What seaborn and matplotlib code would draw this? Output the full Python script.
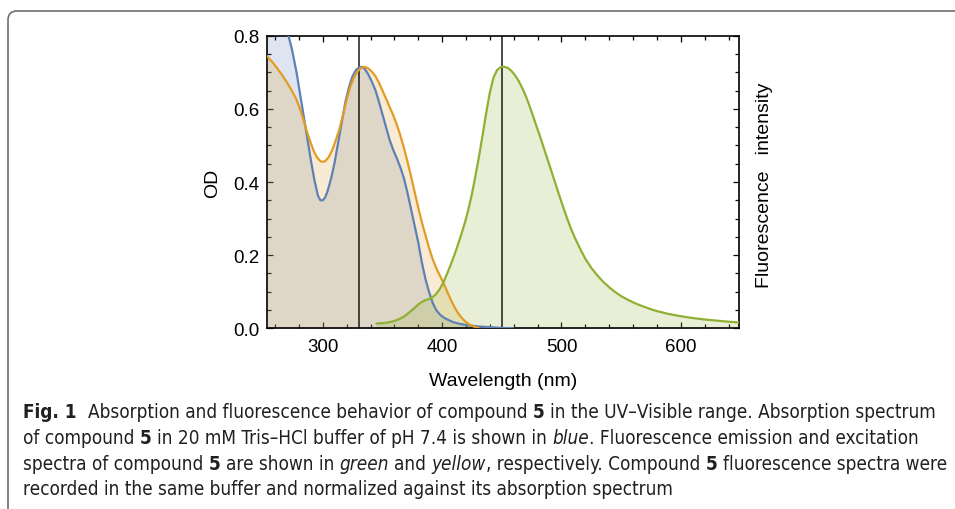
import numpy as np
import pandas as pd
import matplotlib
matplotlib.use("Agg")
import matplotlib.pyplot as plt
import matplotlib.font_manager as fm
from matplotlib.path import Path
from matplotlib.patches import PathPatch
from matplotlib.ticker import MultipleLocator
import seaborn as sns

# ── data ─────────────────────────────────────────────────────
# absorption (blue)
abs_nm = [253, 258, 262, 266, 270, 274, 278, 282, 286, 290, 293, 296, 298, 300,
          302, 304, 307, 310, 313, 316, 319, 322, 325, 328, 331, 333, 335, 338,
          341, 344, 347, 350, 353, 356, 359, 362, 365, 368, 371, 374, 377, 380,
          383, 386, 389, 392, 395, 398, 401, 405, 410, 415, 420, 430, 440, 450, 460]
abs_od = [1.00, 0.95, 0.905, 0.86, 0.815, 0.765, 0.70, 0.62, 0.54, 0.46, 0.405,
          0.362, 0.350, 0.350, 0.358, 0.375, 0.41, 0.455, 0.51, 0.565, 0.62,
          0.66, 0.69, 0.707, 0.714, 0.715, 0.71, 0.695, 0.675, 0.652, 0.62,
          0.585, 0.55, 0.515, 0.488, 0.465, 0.44, 0.41, 0.37, 0.325, 0.28,
          0.235, 0.18, 0.135, 0.1, 0.07, 0.05, 0.038, 0.03, 0.023, 0.016,
          0.012, 0.009, 0.005, 0.003, 0.001, 0.0]

# fluorescence excitation (orange)
exc_nm = [253, 258, 262, 266, 270, 274, 278, 282, 286, 289, 292, 295, 298, 300,
          302, 305, 308, 311, 314, 317, 320, 323, 326, 329, 332, 335, 338, 341,
          344, 347, 350, 353, 356, 359, 362, 365, 368, 371, 374, 377, 380, 383,
          386, 389, 392, 395, 398, 401, 404, 407, 410, 413, 416, 419, 422, 425,
          428, 431]
exc_od = [0.745, 0.727, 0.71, 0.692, 0.672, 0.65, 0.625, 0.59, 0.545, 0.515,
          0.488, 0.468, 0.457, 0.455, 0.457, 0.468, 0.488, 0.515, 0.545, 0.585,
          0.625, 0.66, 0.685, 0.702, 0.712, 0.715, 0.711, 0.702, 0.69, 0.672,
          0.65, 0.628, 0.605, 0.583, 0.557, 0.527, 0.493, 0.455, 0.415, 0.372,
          0.33, 0.29, 0.255, 0.22, 0.19, 0.165, 0.145, 0.125, 0.102, 0.08,
          0.06, 0.043, 0.03, 0.02, 0.012, 0.007, 0.003, 0.0]

# fluorescence emission (green)
emi_nm = [345, 350, 355, 360, 364, 368, 372, 376, 380, 383, 386, 389, 392, 395,
          398, 401, 404, 407, 410, 413, 416, 419, 422, 425, 428, 431, 434, 437,
          440, 443, 446, 449, 452, 455, 458, 461, 464, 467, 470, 473, 476, 479,
          482, 485, 488, 491, 494, 497, 500, 504, 508, 512, 516, 520, 525, 530,
          535, 540, 545, 550, 555, 560, 565, 570, 575, 580, 585, 590, 595, 600,
          610, 620, 630, 640, 649]
emi_int = [0.013, 0.014, 0.016, 0.02, 0.025, 0.032, 0.042, 0.053, 0.065, 0.072,
           0.077, 0.08, 0.085, 0.094, 0.107, 0.125, 0.148, 0.172, 0.198, 0.226,
           0.256, 0.288, 0.325, 0.368, 0.418, 0.472, 0.53, 0.59, 0.645, 0.685,
           0.706, 0.714, 0.715, 0.712, 0.704, 0.692, 0.677, 0.658, 0.636, 0.61,
           0.582, 0.553, 0.525, 0.495, 0.465, 0.435, 0.405, 0.375, 0.345, 0.307,
           0.272, 0.242, 0.215, 0.19, 0.165, 0.145, 0.127, 0.112, 0.099, 0.088,
           0.079, 0.071, 0.064, 0.058, 0.052, 0.047, 0.043, 0.039, 0.036, 0.033,
           0.028, 0.024, 0.021, 0.018, 0.016]

peak_lines = [330, 450]
x_ticks = [300, 400, 500, 600]
y_ticks = [0.0, 0.2, 0.4, 0.6, 0.8]

caption = [
    [("Fig. 1", "bold", False), ("Absorption and fluorescence behavior of compound", "normal", True),
     ("5", "bold", True), ("in the UV–Visible range. Absorption spectrum", "normal", True)],
    [("of compound", "normal", False), ("5", "bold", True),
     ("in 20 mM Tris–HCl buffer of pH 7.4 is shown in", "normal", True), ("blue", "italic", True),
     (". Fluorescence emission and excitation", "normal", False)],
    [("spectra of compound", "normal", False), ("5", "bold", True), ("are shown in", "normal", True),
     ("green", "italic", True), ("and", "normal", True), ("yellow", "italic", True),
     (", respectively. Compound", "normal", False), ("5", "bold", True),
     ("fluorescence spectra were", "normal", True)],
    [("recorded in the same buffer and normalized against its absorption spectrum", "normal", False)],
]

# ── style ────────────────────────────────────────────────────
sns.set_theme(style="ticks")
plt.rcParams["font.family"] = ["Liberation Sans", "DejaVu Sans"]

BLUE = "#5E81B5"
ORANGE = "#E19C24"
GREEN = "#8FB032"

# pick a narrow font for the caption if one is installed
ttf = fm.fontManager.ttflist
if any(f.name == "Liberation Sans Narrow" for f in ttf):
    cap_family, cap_stretch = "Liberation Sans Narrow", "normal"
elif any(f.name == "DejaVu Sans" and f.stretch == "condensed" for f in ttf):
    cap_family, cap_stretch = "DejaVu Sans", "condensed"
else:
    cap_family, cap_stretch = "Open Sans", "normal"

fig = plt.figure(figsize=(9.55, 5.10), dpi=100)
ax = fig.add_axes([266.7 / 955, 1 - 329.3 / 510, 472.6 / 955, 292.6 / 510])

# fills first, then the peak markers, then the curves
ax.fill_between(abs_nm, 0, abs_od, color=BLUE, alpha=0.2, lw=0)
ax.fill_between(exc_nm, 0, exc_od, color=ORANGE, alpha=0.2, lw=0)
ax.fill_between(emi_nm, 0, emi_int, color=GREEN, alpha=0.2, lw=0)
for xv in peak_lines:
    ax.axvline(xv, color="#1a1a1a", lw=1.1, zorder=2)

sns.lineplot(x=abs_nm, y=abs_od, ax=ax, color=BLUE, lw=1.6, zorder=3)
sns.lineplot(x=exc_nm, y=exc_od, ax=ax, color=ORANGE, lw=1.6, zorder=3)
sns.lineplot(x=emi_nm, y=emi_int, ax=ax, color=GREEN, lw=1.6, zorder=3)

ax.set_xlim(253, 649)
ax.set_ylim(0, 0.8)
ax.set_xticks(x_ticks)
ax.set_yticks(y_ticks)
ax.set_yticklabels([f"{v:.1f}" for v in y_ticks])
ax.xaxis.set_minor_locator(MultipleLocator(20))
ax.yaxis.set_minor_locator(MultipleLocator(0.05))
ax.tick_params(which="both", direction="in", top=True, right=True, color="black",
               labelsize=13.5, labelcolor="black")
ax.tick_params(which="major", length=4.5, width=0.9)
ax.tick_params(which="minor", length=2.6, width=0.9)
ax.tick_params(axis="x", pad=7)
ax.tick_params(axis="y", pad=5)
for sp in ax.spines.values():
    sp.set_linewidth(1.2)
    sp.set_color("black")

ax.set_xlabel("Wavelength (nm)", fontsize=14, color="black", labelpad=12)
ax.set_ylabel("OD", fontsize=14, color="black", labelpad=9)
fig.text(764 / 955, 1 - 185 / 510, "Fluorescence   intensity", rotation=90,
         ha="center", va="center", fontsize=14, color="black")

# ── caption frame (rounded top-left corner) ──────────────────
r = 9.0
x0, ytop = 8.0, 510 - 12.0
verts = [(x0, -5), (x0, ytop - r), (x0, ytop), (x0 + r, ytop), (965, ytop)]
codes = [Path.MOVETO, Path.LINETO, Path.CURVE3, Path.CURVE3, Path.LINETO]
verts = [(vx / 100, vy / 100) for vx, vy in verts]
fig.patches.append(PathPatch(Path(verts, codes), transform=fig.dpi_scale_trans,
                             fill=False, edgecolor="#6e6e6e", lw=1.2))

# ── caption text, piece by piece ─────────────────────────────
renderer = fig.canvas.get_renderer()
CAP_COLOR = "#231f20"


def piece_props(kind, size):
    return dict(family=cap_family, stretch=cap_stretch, size=size,
                weight="bold" if kind == "bold" else "normal",
                style="italic" if kind == "italic" else "normal")


def draw_line(pieces, x_px, y_px, size):
    sp = fig.text(0, 0, "x x", **piece_props("normal", size))
    nsp = fig.text(0, 0, "xx", **piece_props("normal", size))
    space = sp.get_window_extent(renderer).width - nsp.get_window_extent(renderer).width
    sp.remove()
    nsp.remove()
    x = x_px
    for i, (txt, kind, gap) in enumerate(pieces):
        if gap:
            x += space
        if i == 1 and pieces[0][0].startswith("Fig"):
            x += space * 1.2
        t = fig.text(x / 955, 1 - y_px / 510, txt, ha="left", va="baseline",
                     color=CAP_COLOR, **piece_props(kind, size))
        x += t.get_window_extent(renderer).width
    return x


# fit the caption size so the first line spans the same width as in the figure
base = 12.0
end = draw_line(caption[0], 23, -100, base)
for t in list(fig.texts):
    if t.get_position()[1] > 1.0:
        t.remove()
cap_size = base * (940 - 23) / (end - 23)

baselines = [418, 444, 470, 495]
for line, yb in zip(caption, baselines):
    draw_line(line, 23, yb, cap_size)

fig.savefig("out.png", dpi=100)
